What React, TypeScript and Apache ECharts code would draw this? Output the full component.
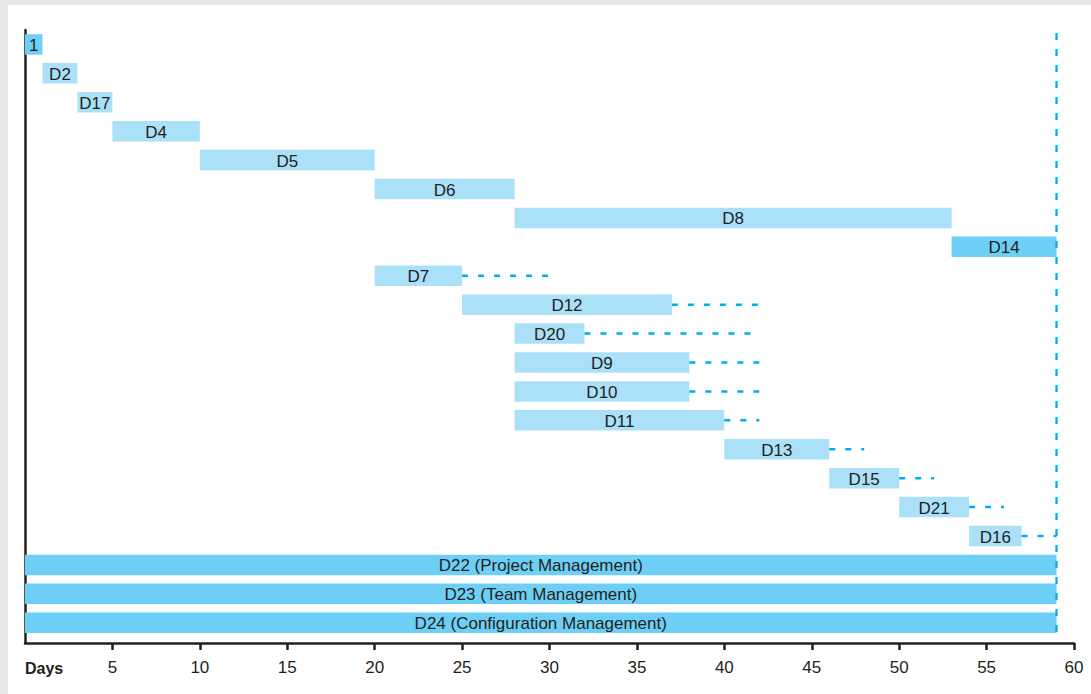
import React, { useEffect, useRef } from "react";
import * as echarts from "echarts";

const tasks = [
  "1", "D2", "D17", "D4", "D5", "D6", "D8", "D14", "D7", "D12", "D20", "D9", "D10", "D11",
  "D13", "D15", "D21", "D16",
  "D22 (Project Management)", "D23 (Team Management)", "D24 (Configuration Management)",
];
const starts = [0, 1, 3, 5, 10, 20, 28, 53, 20, 25, 28, 28, 28, 28, 40, 46, 50, 54, 0, 0, 0];
const ends = [1, 3, 5, 10, 20, 28, 53, 59, 25, 37, 32, 38, 38, 40, 46, 50, 54, 57, 59, 59, 59];
const critical = [1, 0, 0, 0, 0, 0, 0, 1, 0, 0, 0, 0, 0, 0, 0, 0, 0, 0, 1, 1, 1];
const slackEnds: (number | null)[] = [
  null, null, null, null, null, null, null, null, 30, 42, 42, 42, 42, 42, 48, 52, 56, 59, null, null, null,
];
const projectEnd = 59;
const dayTicks = [5, 10, 15, 20, 25, 30, 35, 40, 45, 50, 55, 60];

const FONT = "'Liberation Sans', Arial, Helvetica, sans-serif";
const TEXT = "#231f20";
const LIGHT = "#abe0f9";
const DARK = "#6dcff6";
const DASH = "#00aeef";

export default function App() {
  const ref = useRef<HTMLDivElement>(null);
  useEffect(() => {
    if (!ref.current) return;
    const chart = echarts.init(ref.current, null, { renderer: "svg" });
    const barData = tasks.map((t, i) => [starts[i], ends[i], i, critical[i], t]);
    const slackData: any[] = [];
    tasks.forEach((t, i) => {
      if (slackEnds[i] != null) slackData.push([ends[i], slackEnds[i], i]);
    });
    chart.setOption({
      animation: false,
      backgroundColor: "#ffffff",
      grid: { left: 17, right: 17, top: 25, bottom: 51 },
      xAxis: {
        type: "value",
        min: 0,
        max: 60,
        interval: 5,
        splitLine: { show: false },
        axisLine: { show: true, onZero: false, lineStyle: { color: TEXT, width: 2.5 } },
        axisTick: {
          show: true,
          customValues: dayTicks,
          length: 7,
          inside: false,
          lineStyle: { color: TEXT, width: 2.5 },
        },
        axisLabel: {
          customValues: dayTicks,
          margin: 16,
          color: TEXT,
          fontSize: 17,
          fontFamily: FONT,
        },
      },
      yAxis: {
        type: "value",
        inverse: true,
        min: -0.5,
        max: 20.7,
        splitLine: { show: false },
        axisLine: { show: true, onZero: false, lineStyle: { color: TEXT, width: 2.5 } },
        axisTick: { show: false },
        axisLabel: { show: false },
      },
      graphic: [
        {
          type: "text",
          left: 17,
          top: 655,
          style: { text: "Days", font: `bold 16px ${FONT}`, fill: TEXT },
        },
      ],
      series: [
        {
          type: "custom",
          encode: { x: [0, 1], y: 2 },
          data: barData,
          z: 2,
          renderItem: (params: any, api: any) => {
            const s = api.coord([api.value(0), api.value(2)]);
            const e = api.coord([api.value(1), api.value(2)]);
            const h = 20.5;
            const isCrit = api.value(3) === 1;
            return {
              type: "group",
              children: [
                {
                  type: "rect",
                  shape: { x: s[0], y: s[1] - h / 2, width: e[0] - s[0], height: h },
                  style: { fill: isCrit ? DARK : LIGHT },
                },
                {
                  type: "text",
                  x: (s[0] + e[0]) / 2,
                  y: s[1] + 1,
                  style: {
                    text: tasks[params.dataIndex],
                    font: `17px ${FONT}`,
                    fill: TEXT,
                    align: "center",
                    verticalAlign: "middle",
                  },
                },
              ],
            };
          },
        },
        {
          type: "custom",
          encode: { x: [0, 1], y: 2 },
          data: slackData,
          z: 3,
          renderItem: (params: any, api: any) => {
            const s = api.coord([api.value(0), api.value(2)]);
            const e = api.coord([api.value(1), api.value(2)]);
            return {
              type: "line",
              shape: { x1: s[0], y1: s[1], x2: e[0], y2: e[1] },
              style: { stroke: DASH, lineWidth: 2.5, lineDash: [6, 10] },
            };
          },
        },
        {
          type: "line",
          data: [
            [projectEnd, -0.4],
            [projectEnd, 20.35],
          ],
          symbol: "none",
          z: 4,
          lineStyle: { color: DASH, width: 2.3, type: [7, 9] },
        },
      ],
    });
    return () => chart.dispose();
  }, []);
  return (
    <div
      style={{
        position: "absolute",
        left: 0,
        top: 0,
        width: 1091,
        height: 694,
        background: "#e6e7e8",
        overflow: "hidden",
      }}
    >
      <div
        ref={ref}
        style={{ position: "absolute", left: 8, top: 5, width: 1083, height: 689, background: "#fff" }}
      />
    </div>
  );
}
